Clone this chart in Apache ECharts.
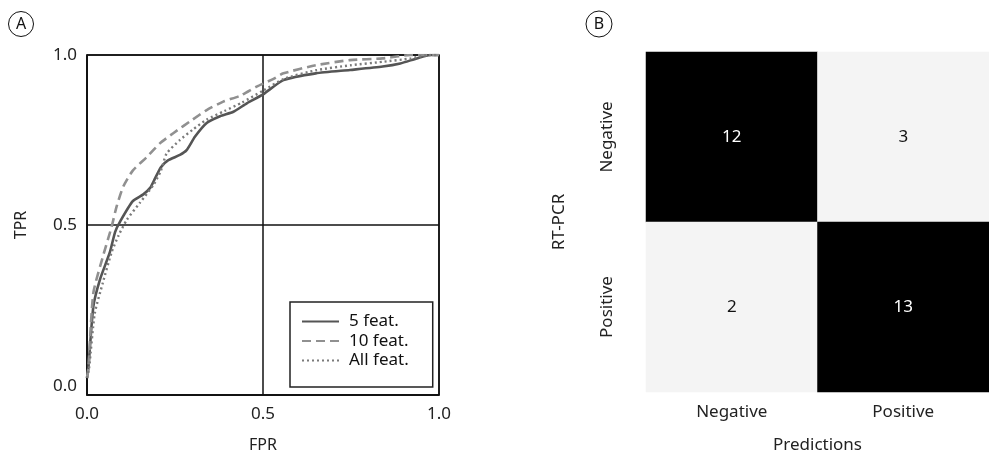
<!DOCTYPE html>
<html>
<head>
<meta charset="utf-8">
<script src="https://cdn.jsdelivr.net/npm/echarts@6/dist/echarts.min.js"></script>
<style>
html,body{margin:0;padding:0;background:#fff;}
#c{width:989px;height:459px;}
</style>
</head>
<body>
<div id="c"></div>
<script>
// ROC curves (panel A)
const fpr5 = [0, 0.004, 0.018, 0.037, 0.065, 0.08, 0.094, 0.13, 0.16, 0.18, 0.19, 0.21, 0.23, 0.264, 0.283, 0.307, 0.34, 0.378, 0.416, 0.454, 0.50, 0.558, 0.65, 0.747, 0.84, 0.89, 0.937, 0.975, 1.0];
const tpr5 = [0.05, 0.08, 0.26, 0.34, 0.42, 0.48, 0.51, 0.57, 0.59, 0.61, 0.63, 0.67, 0.69, 0.706, 0.72, 0.76, 0.80, 0.82, 0.833, 0.858, 0.884, 0.926, 0.946, 0.956, 0.966, 0.975, 0.99, 1.0, 1.0];
const fpr10 = [0, 0.004, 0.018, 0.046, 0.07, 0.084, 0.103, 0.13, 0.17, 0.207, 0.245, 0.30, 0.34, 0.387, 0.435, 0.482, 0.53, 0.558, 0.65, 0.747, 0.84, 0.92, 1.0];
const tpr10 = [0.05, 0.08, 0.30, 0.41, 0.495, 0.554, 0.613, 0.66, 0.70, 0.74, 0.77, 0.81, 0.838, 0.863, 0.88, 0.907, 0.93, 0.946, 0.97, 0.985, 0.99, 1.0, 1.0];
const fprAll = [0, 0.006, 0.022, 0.045, 0.07, 0.09, 0.113, 0.15, 0.19, 0.21, 0.226, 0.264, 0.30, 0.34, 0.39, 0.44, 0.50, 0.56, 0.65, 0.75, 0.84, 0.92, 0.97, 1.0];
const tprAll = [0.05, 0.08, 0.24, 0.33, 0.42, 0.47, 0.515, 0.565, 0.62, 0.66, 0.71, 0.75, 0.78, 0.81, 0.835, 0.86, 0.895, 0.93, 0.955, 0.97, 0.98, 0.99, 1.0, 1.0];
const rocNames = ['5 feat.', '10 feat.', 'All feat.'];
const rocTicks = ['0.0', '0.5', '1.0'];

// Confusion matrix (panel B)
const rtpcrLabels = ['Negative', 'Positive'];
const predLabels = ['Negative', 'Positive'];
const cmCounts = [[12, 3], [2, 13]]; // rows: RT-PCR, cols: Predictions

const FONT = 'Noto Sans';
const zip = (a, b) => a.map((v, i) => [v, b[i]]);

const heatData = [];
cmCounts.forEach((row, r) => row.forEach((v, c) => {
  heatData.push({ value: [c, r, v], label: { color: v >= 8 ? '#fff' : '#111' } });
}));

const chart = echarts.init(document.getElementById('c'));
chart.setOption({
  animation: false,
  textStyle: { fontFamily: FONT },
  grid: [
    { left: 87, top: 55, width: 352, height: 340, show: true, borderColor: '#111', borderWidth: 1.5, backgroundColor: 'transparent' },
    { left: 646, top: 52, width: 354, height: 341 }
  ],
  xAxis: [
    {
      gridIndex: 0, type: 'value', min: 0, max: 1, interval: 0.5,
      axisLine: { show: true, lineStyle: { color: '#111', width: 1.5 } },
      axisTick: { show: false },
      splitLine: { show: true, lineStyle: { color: '#111', width: 1.5 } },
      axisLabel: { color: '#222', fontSize: 17, fontFamily: FONT, margin: 11, formatter: v => rocTicks[Math.round(v * 2)] },
      name: 'FPR', nameLocation: 'middle', nameGap: 42,
      nameTextStyle: { color: '#222', fontSize: 16, fontFamily: FONT }
    },
    {
      gridIndex: 1, type: 'category', data: predLabels,
      axisLine: { show: false }, axisTick: { show: false }, splitLine: { show: false },
      axisLabel: { color: '#222', fontSize: 17, fontFamily: FONT, margin: 12 },
      name: 'Predictions', nameLocation: 'middle', nameGap: 45,
      nameTextStyle: { color: '#222', fontSize: 17, fontFamily: FONT }
    }
  ],
  yAxis: [
    {
      gridIndex: 0, type: 'value', min: 0, max: 1, interval: 0.5,
      axisLine: { show: true, lineStyle: { color: '#111', width: 1.5 } },
      axisTick: { show: false },
      splitLine: { show: true, lineStyle: { color: '#111', width: 1.5 } },
      axisLabel: {
        color: '#222', fontSize: 17, fontFamily: FONT, margin: 10,
        verticalAlignMinLabel: 'bottom',
        formatter: v => rocTicks[Math.round(v * 2)]
      },
      name: 'TPR', nameLocation: 'middle', nameGap: 58, nameRotate: 90,
      nameTextStyle: { color: '#222', fontSize: 16, fontFamily: FONT }
    },
    {
      gridIndex: 1, type: 'category', data: rtpcrLabels, inverse: true,
      axisLine: { show: false }, axisTick: { show: false }, splitLine: { show: false },
      axisLabel: { color: '#222', fontSize: 17, fontFamily: FONT, rotate: 90, margin: 30 },
      name: 'RT-PCR', nameLocation: 'middle', nameGap: 78, nameRotate: 90,
      nameTextStyle: { color: '#222', fontSize: 17, fontFamily: FONT }
    }
  ],
  visualMap: {
    show: false, type: 'piecewise', seriesIndex: 3, dimension: 2,
    pieces: [{ lt: 8, color: '#f4f4f4' }, { gte: 8, color: '#000000' }]
  },
  legend: {
    data: rocNames,
    orient: 'vertical',
    left: 290, top: 302,
    borderColor: '#222', borderWidth: 1.5, borderRadius: 0,
    padding: [11, 24, 18, 11],
    itemWidth: 37, itemHeight: 14, itemGap: 2.5,
    itemStyle: { opacity: 0 },
    textStyle: { color: '#111', fontSize: 17, fontFamily: FONT, padding: [0, 0, 0, 5] },
    backgroundColor: '#fff'
  },
  series: [
    {
      name: rocNames[0], type: 'line', xAxisIndex: 0, yAxisIndex: 0,
      data: zip(fpr5, tpr5), symbol: 'none', smooth: 0.2,
      lineStyle: { color: '#555555', width: 2.6, type: 'solid' },
      itemStyle: { color: '#555555' }
    },
    {
      name: rocNames[1], type: 'line', xAxisIndex: 0, yAxisIndex: 0,
      data: zip(fpr10, tpr10), symbol: 'none', smooth: 0.2,
      lineStyle: { color: '#909090', width: 2.6, type: [9, 5] },
      itemStyle: { color: '#909090' }
    },
    {
      name: rocNames[2], type: 'line', xAxisIndex: 0, yAxisIndex: 0,
      data: zip(fprAll, tprAll), symbol: 'none', smooth: 0.2,
      lineStyle: { color: '#7a7a7a', width: 2.4, type: [2, 3] },
      itemStyle: { color: '#7a7a7a' }
    },
    {
      type: 'heatmap', xAxisIndex: 1, yAxisIndex: 1,
      data: heatData,
      label: { show: true, fontSize: 17, fontFamily: FONT },
      itemStyle: { borderWidth: 0 }
    }
  ],
  graphic: [
    { type: 'circle', shape: { cx: 21, cy: 24, r: 12.5 }, style: { fill: 'none', stroke: '#111', lineWidth: 1 } },
    { type: 'text', x: 21, y: 24, style: { text: 'A', fontSize: 16, fontFamily: FONT, fill: '#111', align: 'center', verticalAlign: 'middle' } },
    { type: 'circle', shape: { cx: 599, cy: 24, r: 13 }, style: { fill: 'none', stroke: '#111', lineWidth: 1 } },
    { type: 'text', x: 599, y: 24, style: { text: 'B', fontSize: 16, fontFamily: FONT, fill: '#111', align: 'center', verticalAlign: 'middle' } }
  ]
});
</script>
</body>
</html>
